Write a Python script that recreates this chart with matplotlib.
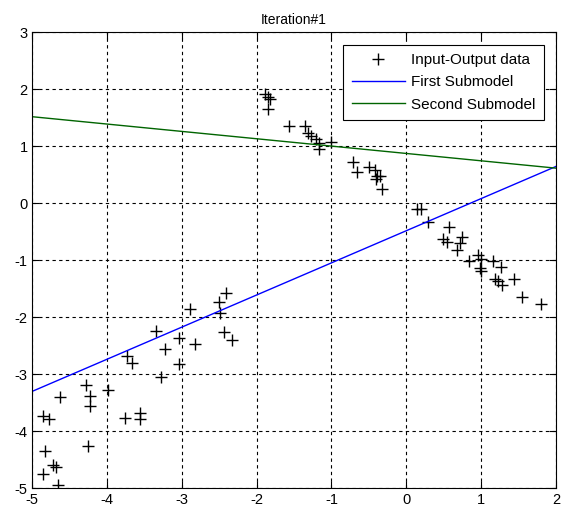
import numpy as np
import matplotlib.pyplot as plt

plt.rcParams['font.family'] = ['Liberation Sans', 'DejaVu Sans']
plt.rcParams['axes.unicode_minus'] = False

## INPUT-OUTPUT DATA
x_data = [-2.41, -2.50, -2.89, -2.49, -2.44, -2.33, -3.35, -3.04, -2.82, -3.23,
          -3.73, -3.66, -3.04, -3.28, -3.99, -4.28, -4.22, -4.62, -4.23, -4.85,
          -4.77, -3.76, -3.56, -3.56, -4.25, -4.82, -4.72, -4.68, -4.85, -4.65,
          -1.89, -1.85, -1.82, -1.85, -1.57, -1.36, -1.31, -1.27, -1.21, -1.17,
          -1.16, -1.01, -0.71, -0.66, -0.50, -0.42, -0.39, -0.35, -0.40, -0.32,
          0.14, 0.20, 0.29, 0.57, 0.49, 0.54, 0.74, 0.71, 0.67, 0.84,
          0.96, 1.00, 0.99, 1.00, 1.16, 1.27, 1.18, 1.23, 1.28, 1.44,
          1.54, 1.80]
y_data = [-1.57, -1.73, -1.85, -1.93, -2.26, -2.40, -2.24, -2.36, -2.46, -2.56,
          -2.68, -2.80, -2.82, -3.04, -3.28, -3.19, -3.38, -3.39, -3.56, -3.73,
          -3.79, -3.76, -3.68, -3.78, -4.25, -4.35, -4.59, -4.62, -4.74, -4.94,
          1.92, 1.87, 1.83, 1.65, 1.36, 1.36, 1.23, 1.19, 1.12, 1.05,
          0.96, 1.08, 0.73, 0.55, 0.63, 0.58, 0.48, 0.48, 0.43, 0.26,
          -0.10, -0.10, -0.33, -0.41, -0.63, -0.67, -0.59, -0.70, -0.82, -1.02,
          -0.91, -0.97, -1.14, -1.19, -1.01, -1.11, -1.32, -1.36, -1.43, -1.32,
          -1.65, -1.77]

## SUBMODELS (slope, intercept)
sub1 = [0.564, -0.48]
sub2 = [-0.129, 0.875]
x_line = np.array([-5., 2.])

fig = plt.figure(figsize=(5.66, 5.13), dpi=100)
ax = fig.add_axes([0.0565, 0.048, 0.926, 0.889])

ax.plot(x_data, y_data, '+', color='black', markersize=9, markeredgewidth=1.0,
        label='Input-Output data')
ax.plot(x_line, sub1[0]*x_line + sub1[1], color='#0000ff', linewidth=1.0,
        label='First Submodel')
ax.plot(x_line, sub2[0]*x_line + sub2[1], color='#006400', linewidth=1.0,
        label='Second Submodel')

ax.set_xlim(-5, 2)
ax.set_ylim(-5, 3)
ax.set_xticks(np.arange(-5, 3))
ax.set_yticks(np.arange(-5, 4))
ax.grid(True, color='black', linestyle=(0, (3, 3)), linewidth=0.8)
ax.tick_params(direction='in', top=True, right=True, labelsize=10.5, length=5, pad=3)
for s in ax.spines.values():
    s.set_linewidth(0.8)
ax.set_title('Iteration#1', fontsize=10)

leg = ax.legend(loc='upper right', fontsize=11, fancybox=False, framealpha=1,
                edgecolor='black', borderaxespad=0.8, handlelength=3.5,
                labelspacing=0.55, borderpad=0.55, handletextpad=0.4)
leg.get_frame().set_linewidth(0.8)

fig.savefig('out.png', dpi=100)
